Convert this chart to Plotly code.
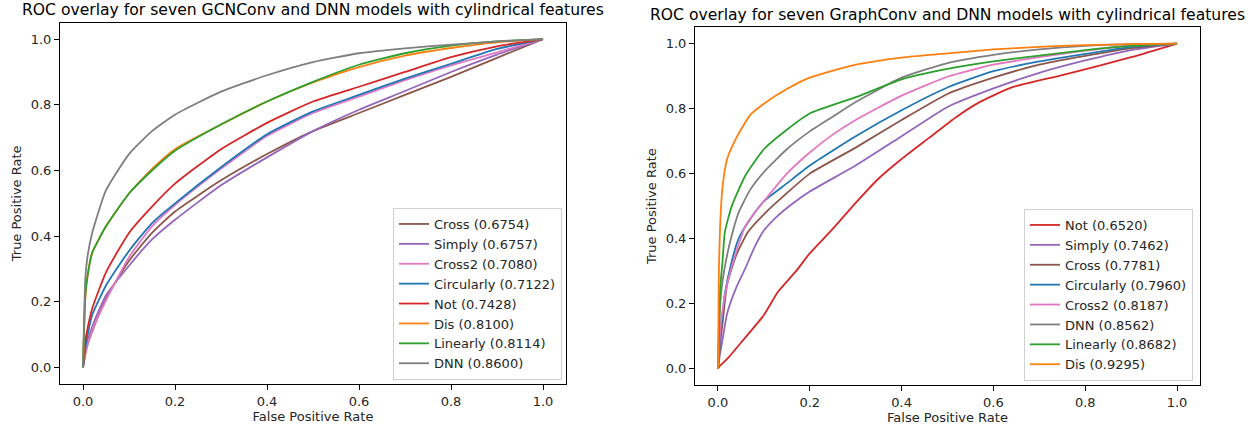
import plotly.graph_objects as go

# ---------------- data ----------------
# Left panel: GCNConv + DNN, common FPR grid
L_FPR = [0, 0.005, 0.01, 0.02, 0.05, 0.1, 0.15, 0.2, 0.3, 0.4, 0.5, 0.6, 0.7, 0.8, 0.9, 1.0]
L_CROSS = [0, 0.04, 0.07, 0.11, 0.21, 0.325, 0.41, 0.475, 0.57, 0.65, 0.72, 0.775, 0.83, 0.885, 0.943, 1]
L_SIMPLY = [0, 0.05, 0.08, 0.125, 0.22, 0.31, 0.39, 0.45, 0.555, 0.64, 0.72, 0.785, 0.842, 0.9, 0.953, 1]
L_CROSS2 = [0, 0.04, 0.07, 0.113, 0.205, 0.336, 0.43, 0.495, 0.605, 0.705, 0.775, 0.825, 0.875, 0.92, 0.96, 1]
L_CIRC = [0, 0.06, 0.10, 0.16, 0.25, 0.355, 0.44, 0.50, 0.61, 0.71, 0.78, 0.83, 0.88, 0.925, 0.97, 1]
L_NOT = [0, 0.08, 0.12, 0.18, 0.29, 0.41, 0.49, 0.56, 0.665, 0.745, 0.81, 0.855, 0.9, 0.945, 0.978, 1]
L_DIS = [0, 0.21, 0.28, 0.35, 0.43, 0.53, 0.605, 0.665, 0.74, 0.81, 0.868, 0.915, 0.95, 0.973, 0.99, 1]
L_LIN = [0, 0.22, 0.28, 0.35, 0.43, 0.53, 0.60, 0.66, 0.74, 0.81, 0.87, 0.922, 0.957, 0.98, 0.993, 1]
L_DNN = [0, 0.27, 0.34, 0.41, 0.54, 0.65, 0.72, 0.77, 0.84, 0.89, 0.93, 0.957, 0.972, 0.983, 0.993, 1]
L_NAMES = ["Cross (0.6754)", "Simply (0.6757)", "Cross2 (0.7080)", "Circularly (0.7122)",
           "Not (0.7428)", "Dis (0.8100)", "Linearly (0.8114)", "DNN (0.8600)"]

# Right panel: GraphConv + DNN
R_NOT_FPR = [0, 0.005, 0.02, 0.05, 0.1, 0.13, 0.17, 0.2, 0.25, 0.3, 0.35, 0.4, 0.46, 0.52, 0.57, 0.64, 0.75, 0.9, 1.0]
R_NOT_TPR = [0, 0.01, 0.03, 0.08, 0.165, 0.235, 0.3, 0.355, 0.43, 0.51, 0.585, 0.645, 0.71, 0.775, 0.82, 0.865, 0.903, 0.958, 1]
R_SIMPLY_FPR = [0, 0.005, 0.01, 0.02, 0.04, 0.06, 0.08, 0.1, 0.13, 0.16, 0.2, 0.3, 0.4, 0.5, 0.6, 0.7, 0.8, 0.9, 1.0]
R_SIMPLY_TPR = [0, 0.05, 0.09, 0.17, 0.25, 0.31, 0.375, 0.425, 0.47, 0.505, 0.545, 0.625, 0.715, 0.805, 0.862, 0.91, 0.948, 0.98, 1]
R_CROSS_FPR = [0, 0.005, 0.01, 0.02, 0.04, 0.065, 0.1, 0.15, 0.2, 0.3, 0.4, 0.5, 0.6, 0.7, 0.8, 0.9, 1.0]
R_CROSS_TPR = [0, 0.08, 0.14, 0.26, 0.35, 0.42, 0.475, 0.54, 0.60, 0.68, 0.765, 0.845, 0.895, 0.935, 0.962, 0.986, 1]
R_CIRC_FPR = [0, 0.005, 0.01, 0.015, 0.03, 0.045, 0.07, 0.1, 0.15, 0.2, 0.3, 0.4, 0.5, 0.6, 0.7, 0.8, 0.9, 1.0]
R_CIRC_TPR = [0, 0.1, 0.17, 0.23, 0.33, 0.40, 0.46, 0.515, 0.57, 0.625, 0.715, 0.795, 0.865, 0.915, 0.945, 0.968, 0.99, 1]
R_CROSS2_FPR = [0, 0.005, 0.01, 0.02, 0.04, 0.06, 0.08, 0.1, 0.15, 0.2, 0.25, 0.3, 0.4, 0.5, 0.6, 0.7, 0.8, 0.9, 1.0]
R_CROSS2_TPR = [0, 0.12, 0.18, 0.26, 0.36, 0.44, 0.48, 0.515, 0.6, 0.665, 0.72, 0.765, 0.84, 0.898, 0.935, 0.958, 0.978, 0.994, 1]
R_DNN_FPR = [0, 0.005, 0.01, 0.02, 0.03, 0.045, 0.07, 0.1, 0.15, 0.2, 0.25, 0.3, 0.4, 0.5, 0.6, 0.7, 0.8, 0.9, 1.0]
R_DNN_TPR = [0, 0.2, 0.27, 0.35, 0.41, 0.48, 0.55, 0.605, 0.675, 0.73, 0.775, 0.82, 0.895, 0.94, 0.965, 0.982, 0.993, 0.998, 1]
R_LIN_FPR = [0, 0.005, 0.01, 0.015, 0.03, 0.06, 0.1, 0.15, 0.2, 0.3, 0.4, 0.5, 0.6, 0.7, 0.8, 0.9, 1.0]
R_LIN_TPR = [0, 0.25, 0.33, 0.42, 0.50, 0.595, 0.675, 0.735, 0.785, 0.835, 0.89, 0.922, 0.945, 0.963, 0.98, 0.993, 1]
R_DIS_FPR = [0, 0.002, 0.005, 0.01, 0.02, 0.04, 0.07, 0.1, 0.15, 0.2, 0.3, 0.4, 0.5, 0.6, 0.7, 0.8, 0.9, 1.0]
R_DIS_TPR = [0, 0.3, 0.45, 0.56, 0.645, 0.71, 0.78, 0.815, 0.86, 0.895, 0.935, 0.957, 0.97, 0.982, 0.99, 0.995, 0.998, 1]
R_NAMES = ["Not (0.6520)", "Simply (0.7462)", "Cross (0.7781)", "Circularly (0.7960)",
           "Cross2 (0.8187)", "DNN (0.8562)", "Linearly (0.8682)", "Dis (0.9295)"]

BLUE, ORANGE, GREEN, RED = "#1f77b4", "#ff7f0e", "#2ca02c", "#d62728"
PURPLE, BROWN, PINK, GRAY = "#9467bd", "#8c564b", "#e377c2", "#7f7f7f"

TITLE_L = "ROC overlay for seven GCNConv and DNN models with cylindrical features"
TITLE_R = "ROC overlay for seven GraphConv and DNN models with cylindrical features"

FONT = "DejaVu Sans"
W, H = 1256, 429
FS = 13
TEXT = "#262626"

fig = go.Figure()

left_series = [L_CROSS, L_SIMPLY, L_CROSS2, L_CIRC, L_NOT, L_DIS, L_LIN, L_DNN]
left_colors = [BROWN, PURPLE, PINK, BLUE, RED, ORANGE, GREEN, GRAY]
for name, ys, c in zip(L_NAMES, left_series, left_colors):
    fig.add_trace(go.Scatter(x=L_FPR, y=ys, name=name, mode="lines",
                             line=dict(color=c, width=1.8, shape="spline", smoothing=0.5),
                             xaxis="x", yaxis="y", legend="legend"))

right_series = [(R_NOT_FPR, R_NOT_TPR), (R_SIMPLY_FPR, R_SIMPLY_TPR), (R_CROSS_FPR, R_CROSS_TPR),
                (R_CIRC_FPR, R_CIRC_TPR), (R_CROSS2_FPR, R_CROSS2_TPR), (R_DNN_FPR, R_DNN_TPR),
                (R_LIN_FPR, R_LIN_TPR), (R_DIS_FPR, R_DIS_TPR)]
right_colors = [RED, PURPLE, BROWN, BLUE, PINK, GRAY, GREEN, ORANGE]
for name, (xs, ys), c in zip(R_NAMES, right_series, right_colors):
    fig.add_trace(go.Scatter(x=xs, y=ys, name=name, mode="lines",
                             line=dict(color=c, width=1.8, shape="spline", smoothing=0.5),
                             xaxis="x2", yaxis="y2", legend="legend2"))

TICKS = [0, 0.2, 0.4, 0.6, 0.8, 1.0]
TICKTEXT = ["0.0", "0.2", "0.4", "0.6", "0.8", "1.0"]


def axis(domain, anchor, title, standoff):
    return dict(domain=domain, anchor=anchor, range=[-0.05, 1.05], showgrid=False, zeroline=False,
                showline=True, linecolor="black", linewidth=1, mirror=True,
                ticks="outside", ticklen=5, tickwidth=1, tickcolor="black",
                tickvals=TICKS, ticktext=TICKTEXT, tickfont=dict(family=FONT, size=FS, color=TEXT),
                title=dict(text=title, font=dict(family=FONT, size=FS, color=TEXT), standoff=standoff))


legend_style = dict(bgcolor="rgba(255,255,255,0.8)", bordercolor="#d0d0d0", borderwidth=1,
                    font=dict(family=FONT, size=FS, color=TEXT), xanchor="right", yanchor="bottom",
                    itemwidth=30, tracegroupgap=0)

fig.update_layout(
    width=W, height=H, margin=dict(l=0, r=0, t=0, b=0),
    paper_bgcolor="white", plot_bgcolor="white",
    xaxis=axis([60 / W, 566 / W], "y", "False Positive Rate", 4),
    yaxis=axis([(H - 384) / H, (H - 22.7) / H], "x", "True Positive Rate", 6),
    xaxis2=axis([695 / W, 1200 / W], "y2", "False Positive Rate", 4),
    yaxis2=axis([(H - 385) / H, (H - 27.3) / H], "x2", "True Positive Rate", 6),
    legend=dict(x=562 / W, y=(H - 380) / H, **legend_style),
    legend2=dict(x=1193 / W, y=(H - 381) / H, **legend_style),
    annotations=[
        dict(text=TITLE_L, x=313 / W, y=(H - 10) / H, xref="paper", yref="paper", showarrow=False,
             xanchor="center", yanchor="middle", font=dict(family=FONT, size=15.6, color="black")),
        dict(text=TITLE_R, x=947.5 / W, y=(H - 15) / H, xref="paper", yref="paper", showarrow=False,
             xanchor="center", yanchor="middle", font=dict(family=FONT, size=15.6, color="black")),
    ],
)

fig.write_html("out.html")
